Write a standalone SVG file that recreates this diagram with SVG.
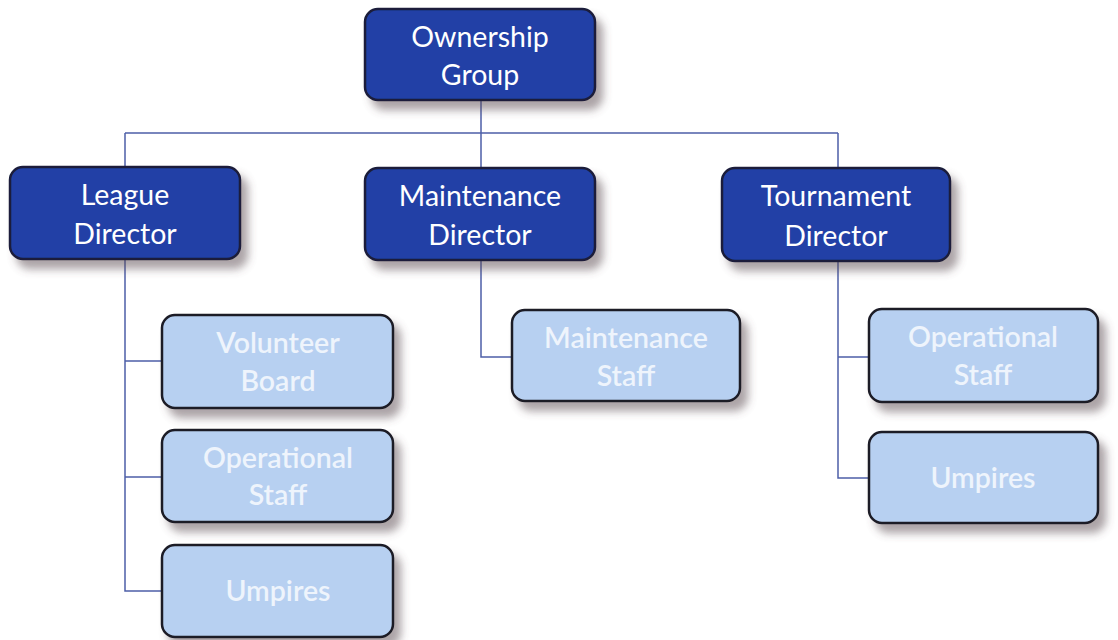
<svg xmlns="http://www.w3.org/2000/svg" width="1118" height="640" viewBox="0 0 1118 640">
  <defs>
    <filter id="shadow" x="-10%" y="-10%" width="130%" height="140%">
      <feGaussianBlur in="SourceAlpha" stdDeviation="4"/>
      <feOffset dx="7" dy="9" result="b"/>
      <feFlood flood-color="#5a4a50" flood-opacity="0.5"/>
      <feComposite in2="b" operator="in"/>
      <feMerge><feMergeNode/><feMergeNode in="SourceGraphic"/></feMerge>
    </filter>
  </defs>
  <style>
    .dark { fill: #2141a6; stroke: #1a1f3a; stroke-width: 2.5; filter: url(#shadow); }
    .light { fill: #b7d0f1; stroke: #1c1c26; stroke-width: 2.5; filter: url(#shadow); }
    .t { font-family: Lato, "Open Sans", "Liberation Sans", sans-serif; font-size: 28.5px; text-anchor: middle; }
    .td { fill: #ffffff; }
    .tl { fill: #eef4fc; font-weight: 600; }
    .wire { fill: none; stroke: #4d5fa8; stroke-width: 1.5; }
  </style>
  <rect width="1118" height="640" fill="#ffffff"/>

  <g id="connectors">
    <path class="wire" d="M481,100 V168 M125,133 H838 M125,133 V167 M838,133 V168"/>
    <path class="wire" d="M125,259 V591 H163 M125,361 H163 M125,477 H163"/>
    <path class="wire" d="M481,260 V357 H512"/>
    <path class="wire" d="M838,262 V478 H869 M838,357 H869"/>
  </g>

  <g id="ownership">
    <rect class="dark" x="365" y="9" width="230" height="91" rx="13"/>
    <text class="t td" x="480" y="47">Ownership</text>
    <text class="t td" x="480" y="85">Group</text>
  </g>
  <g id="league-director">
    <rect class="dark" x="10" y="167" width="230" height="92" rx="13"/>
    <text class="t td" x="125" y="205">League</text>
    <text class="t td" x="125" y="244">Director</text>
  </g>
  <g id="maintenance-director">
    <rect class="dark" x="365" y="168" width="230" height="92" rx="13"/>
    <text class="t td" x="480" y="206">Maintenance</text>
    <text class="t td" x="480" y="245">Director</text>
  </g>
  <g id="tournament-director">
    <rect class="dark" x="722" y="168" width="228" height="93" rx="13"/>
    <text class="t td" x="836" y="206">Tournament</text>
    <text class="t td" x="836" y="246">Director</text>
  </g>

  <g id="volunteer-board">
    <rect class="light" x="162" y="315" width="231" height="93" rx="13"/>
    <text class="t tl" x="278" y="353">Volunteer</text>
    <text class="t tl" x="278" y="391">Board</text>
  </g>
  <g id="league-operational-staff">
    <rect class="light" x="162" y="430" width="231" height="92" rx="13"/>
    <text class="t tl" x="278" y="468">Operational</text>
    <text class="t tl" x="278" y="505">Staff</text>
  </g>
  <g id="league-umpires">
    <rect class="light" x="162" y="545" width="231" height="92" rx="13"/>
    <text class="t tl" x="278" y="601">Umpires</text>
  </g>
  <g id="maintenance-staff">
    <rect class="light" x="512" y="310" width="228" height="91" rx="13"/>
    <text class="t tl" x="626" y="348">Maintenance</text>
    <text class="t tl" x="626" y="386">Staff</text>
  </g>
  <g id="tournament-operational-staff">
    <rect class="light" x="869" y="309" width="229" height="93" rx="13"/>
    <text class="t tl" x="983" y="347">Operational</text>
    <text class="t tl" x="983" y="385">Staff</text>
  </g>
  <g id="tournament-umpires">
    <rect class="light" x="869" y="432" width="229" height="91" rx="13"/>
    <text class="t tl" x="983" y="488">Umpires</text>
  </g>
</svg>
